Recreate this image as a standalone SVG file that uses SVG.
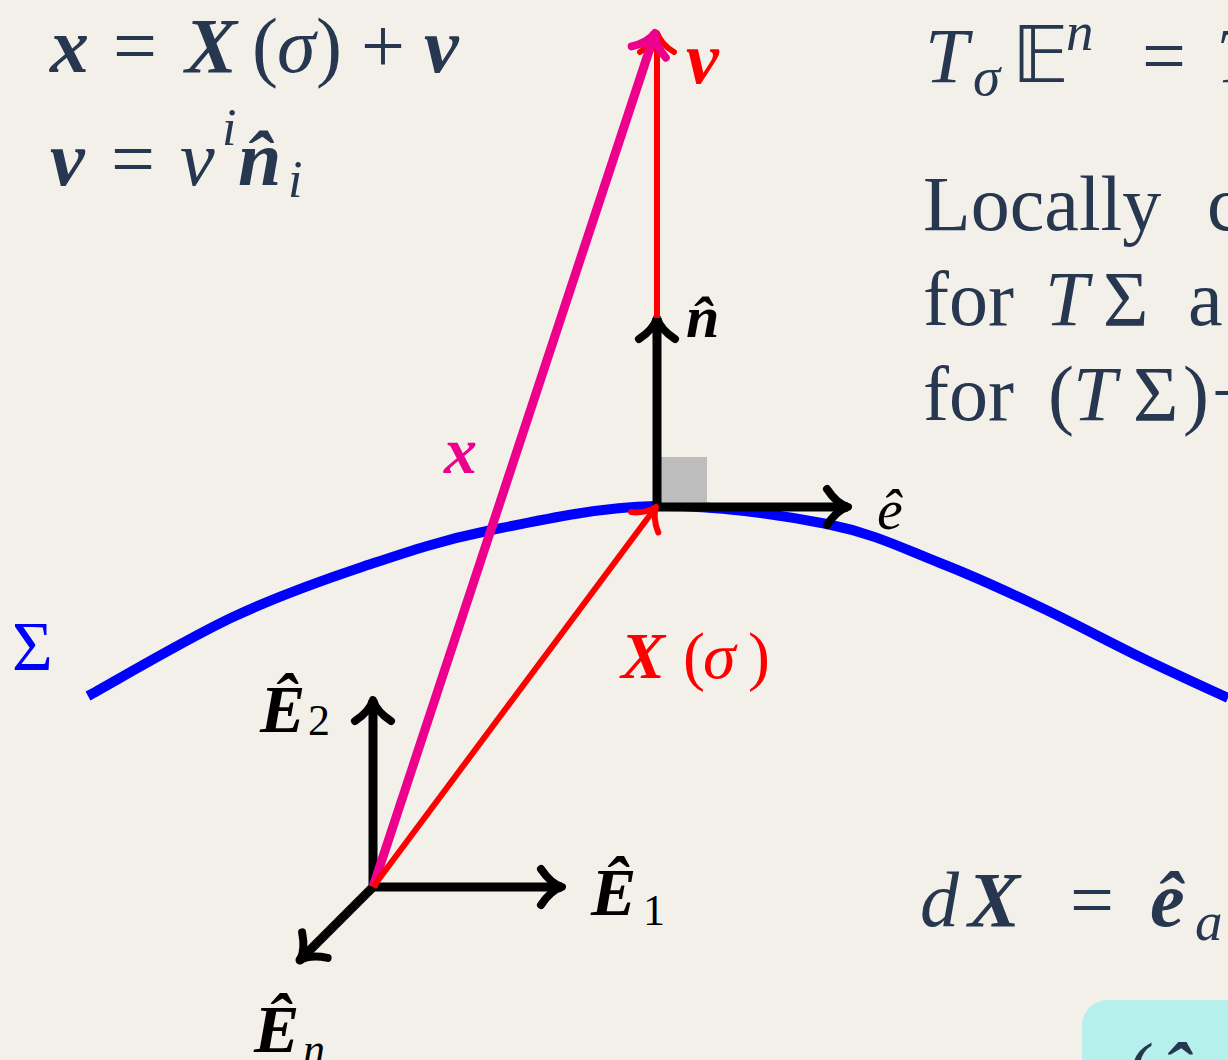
<svg xmlns="http://www.w3.org/2000/svg" width="1228" height="1060" viewBox="0 0 1228 1060">
<style>
.m{font-family:'Liberation Serif','DejaVu Serif',serif;fill:#26374f}
.it{font-style:italic}
.bi{font-style:italic;font-weight:bold}
.red{fill:#ff0000}
.pink{fill:#ec008c}
.blue{fill:#0000ff}
.blk{fill:#000}
.ds{font-family:'DejaVu Sans','DejaVu Serif',sans-serif}
</style>
<defs>
<marker id="ah-k" markerUnits="userSpaceOnUse" orient="auto-start-reverse" refX="0" refY="0" markerWidth="1" markerHeight="1" overflow="visible">
<path d="M-21,-18 C-15,-9 -7,-2 0,0 C-7,2 -15,9 -21,18" fill="none" stroke="#000" stroke-width="8" stroke-linecap="round" stroke-linejoin="round"/>
</marker>
<marker id="ah-r" markerUnits="userSpaceOnUse" orient="auto" refX="0" refY="0" markerWidth="1" markerHeight="1" overflow="visible">
<path d="M-19,-17 C-14,-8 -6,-2 0,0 C-6,2 -14,8 -19,17" fill="none" stroke="#ff0000" stroke-width="6" stroke-linecap="round" stroke-linejoin="round"/>
</marker>
<marker id="ah-p" markerUnits="userSpaceOnUse" orient="auto" refX="0" refY="0" markerWidth="1" markerHeight="1" overflow="visible">
<path d="M-20,-18 C-15,-9 -7,-2 0,0 C-7,2 -15,9 -20,18" fill="none" stroke="#ec008c" stroke-width="8" stroke-linecap="round" stroke-linejoin="round"/>
</marker>
</defs>
<rect width="1228" height="1060" fill="#f3f0ea"/>

<g id="equations-left" class="m">
<text font-size="78" y="72"><tspan x="50" class="bi">x</tspan><tspan x="113">=</tspan><tspan x="185" class="bi">X</tspan><tspan x="252">(</tspan><tspan x="277" class="it">σ</tspan><tspan x="316">)</tspan><tspan x="361">+</tspan><tspan x="424" class="bi">ν</tspan></text>
<text font-size="78" y="185"><tspan x="50" class="bi">ν</tspan><tspan x="111">=</tspan><tspan x="180" class="it">ν</tspan><tspan x="222" y="145" font-size="52" class="it">i</tspan><tspan x="238" y="185" class="bi">n̂</tspan><tspan x="288" y="197" font-size="52" class="it">i</tspan></text>
</g>

<g id="text-right" class="m">
<text font-size="78" y="82"><tspan x="925" class="it">T</tspan><tspan x="973" y="95" font-size="55" class="it">σ</tspan><tspan x="1012" y="82" class="ds">𝔼</tspan><tspan x="1066" y="50" font-size="55" class="it">n</tspan><tspan x="1142" y="82">=</tspan><tspan x="1216" class="it">T</tspan></text>
<text font-size="78" y="230"><tspan x="923">Locally</tspan><tspan x="1207">c</tspan></text>
<text font-size="78" y="325"><tspan x="923">for</tspan><tspan x="1045" class="it">T</tspan><tspan x="1103">Σ</tspan><tspan x="1188">a</tspan></text>
<text font-size="78" y="420"><tspan x="923">for</tspan><tspan x="1048">(</tspan><tspan x="1073" class="it">T</tspan><tspan x="1133">Σ</tspan><tspan x="1183">)</tspan><tspan x="1210" y="395" font-size="50">⊥</tspan></text>
<text font-size="78" y="926"><tspan x="920" class="it">d</tspan><tspan x="968" class="bi">X</tspan><tspan x="1070">=</tspan><tspan x="1150" class="bi">ê</tspan><tspan x="1195" y="940" font-size="55" class="it">a</tspan></text>
</g>

<g id="box-bottom">
<rect x="1082" y="1000" width="220" height="120" rx="26" fill="#b6f0ec"/>
<text class="m" font-size="78" y="1097"><tspan x="1128">(</tspan><tspan x="1158" class="bi">ê</tspan></text>
</g>

<g id="surface-sigma">
<path d="M88,696 C112,683 187,638.5 233,617 C279,595.5 320,581 362,567 C404,553 438,541 487,531 C536,521 598,507 655,506 C712,505 779.5,514.5 827,524 C874.5,533.5 904.5,549.2 940,563 C975.5,576.8 1006.7,591.3 1040,607 C1073.3,622.7 1108.7,641.8 1140,657 C1171.3,672.2 1213.3,691.2 1228,698" fill="none" stroke="#0000ff" stroke-width="10"/>
<text class="m blue" font-size="70" x="12" y="670">Σ</text>
</g>

<g id="right-angle">
<rect x="660" y="457" width="47" height="46" fill="#bdbdbd"/>
</g>

<g id="connectors" fill="none">
<path id="axes-E" d="M373,700 L373,887 L562,887" stroke="#000" stroke-width="9" stroke-linejoin="round" marker-start="url(#ah-k)" marker-end="url(#ah-k)"/>
<path id="axis-En" d="M373,887 L300,960" stroke="#000" stroke-width="9" stroke-linecap="round" marker-end="url(#ah-k)"/>
<path id="frame-ne" d="M657,318 L657,507 L848,507" stroke="#000" stroke-width="9" stroke-linejoin="round" marker-start="url(#ah-k)" marker-end="url(#ah-k)"/>
<path id="vec-nu" d="M657,318 L657,33" stroke="#ff0000" stroke-width="6" marker-end="url(#ah-r)"/>
<path id="vec-x" d="M373,887 L655,33" stroke="#ec008c" stroke-width="9" marker-end="url(#ah-p)"/>
<path id="vec-X" d="M373,887 L656,507" stroke="#ff0000" stroke-width="6" marker-end="url(#ah-r)"/>
</g>

<g id="labels" class="m">
<text class="bi red" font-size="74" x="686" y="83">ν</text>
<text class="bi blk" font-size="60" x="686" y="337">n̂</text>
<text class="it blk" font-size="58" x="877" y="529">ê</text>
<text class="bi pink" font-size="66" x="444" y="473">x</text>
<text class="red" font-size="66" y="678"><tspan x="621" class="bi">X</tspan><tspan x="683">(</tspan><tspan x="703" class="it">σ</tspan><tspan x="748">)</tspan></text>
<text class="blk" font-size="68" y="732"><tspan x="260" class="bi">Ê</tspan><tspan x="308" y="735" font-size="44">2</tspan></text>
<text class="blk" font-size="68" y="915"><tspan x="591" class="bi">Ê</tspan><tspan x="643" y="925" font-size="44">1</tspan></text>
<text class="blk" font-size="68" y="1052"><tspan x="254" class="bi">Ê</tspan><tspan x="303" y="1064" font-size="44" class="it">n</tspan></text>
</g>
</svg>
